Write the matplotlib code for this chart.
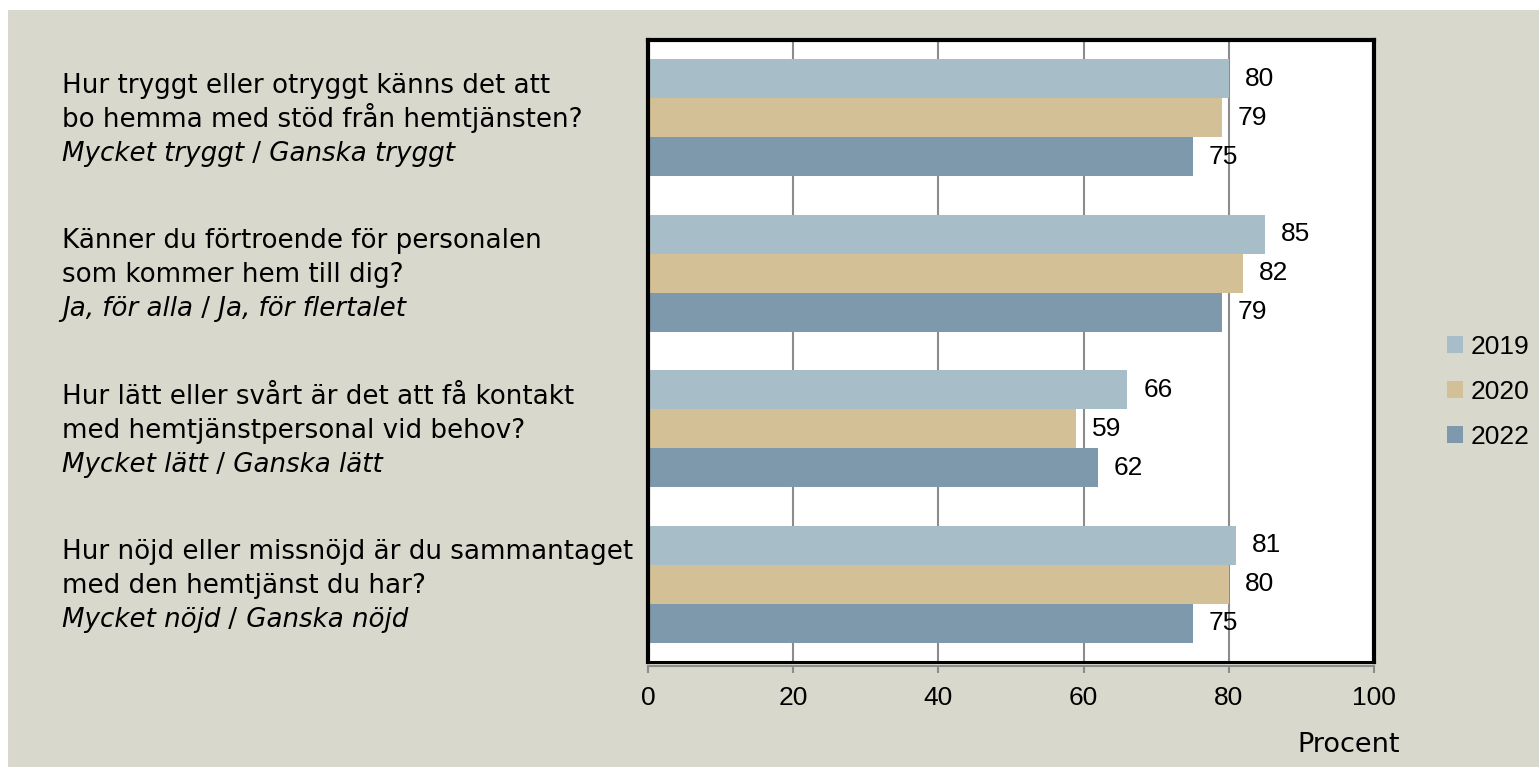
import matplotlib
matplotlib.use("Agg")
import matplotlib.pyplot as plt
import matplotlib.transforms as mtransforms
from matplotlib.patches import Rectangle

plt.rcParams['font.family'] = ['Liberation Sans', 'DejaVu Sans']
word_font = ['DejaVu Sans']

# --- data
question_lines = [
    ("Hur tryggt eller otryggt känns det att", "bo hemma med stöd från hemtjänsten?"),
    ("Känner du förtroende för personalen", "som kommer hem till dig?"),
    ("Hur lätt eller svårt är det att få kontakt", "med hemtjänstpersonal vid behov?"),
    ("Hur nöjd eller missnöjd är du sammantaget", "med den hemtjänst du har?"),
]
answers = [
    ("Mycket tryggt", "Ganska tryggt"),
    ("Ja, för alla", "Ja, för flertalet"),
    ("Mycket lätt", "Ganska lätt"),
    ("Mycket nöjd", "Ganska nöjd"),
]
years = ["2019", "2020", "2022"]
v2019 = [80, 85, 66, 81]
v2020 = [79, 82, 59, 80]
v2022 = [75, 79, 62, 75]
colors = ["#A7BDC8", "#D4C096", "#7D99AB"]
xticks = [0, 20, 40, 60, 80, 100]

bg = "#D9D8CC"
W, H = 1539, 767
fig = plt.figure(figsize=(W / 100, H / 100), dpi=100, facecolor="white")
fig.patches.append(Rectangle((8 / W, 0), 1, 1 - 10 / H, transform=fig.transFigure,
                             facecolor=bg, edgecolor="none", zorder=-10))

ax = fig.add_axes([648 / W, 1 - 662 / H, (1374 - 648) / W, (662 - 40) / H])
ax.set_facecolor("white")

bh = 0.25
series = [v2019, v2020, v2022]
for k, (vals, c, yr) in enumerate(zip(series, colors, years)):
    ys = [i + (k - 1) * bh for i in range(len(vals))]
    ax.barh(ys, vals, height=bh, color=c, label=yr, zorder=2)
    for y, v in zip(ys, vals):
        ax.annotate(str(v), xy=(v, y), xytext=(16, 0), textcoords="offset pixels",
                    ha="left", va="center", fontsize=19, color="black", zorder=4)

ax.set_xlim(0, 100)
ax.set_ylim(len(question_lines) - 0.5, -0.5)
ax.set_yticks([])
ax.set_xticks(xticks)
ax.grid(axis="x", color="#8C8C8C", linewidth=1.5, zorder=1)
ax.set_axisbelow(True)
ax.tick_params(axis="x", direction="out", length=5, width=1.5, color="#8C8C8C",
               labelsize=19, labelcolor="black", pad=9)

for s in ["top", "left", "right"]:
    ax.spines[s].set_color("black")
    ax.spines[s].set_linewidth(3)
ax.spines["bottom"].set_color("#8C8C8C")
ax.spines["bottom"].set_linewidth(1.5)
ax.spines["bottom"].set_position(("outward", 3))
ax.plot([0, 1], [0, 0], transform=ax.transAxes, color="black", lw=2.2,
        clip_on=False, zorder=5)

# question labels on the left
blend = mtransforms.blended_transform_factory(fig.transFigure, ax.transData)
qs = 18.8
for i, ((l1, l2), (a1, a2)) in enumerate(zip(question_lines, answers)):
    t1 = mtransforms.offset_copy(blend, fig=fig, x=0, y=25, units="dots")
    t2 = mtransforms.offset_copy(blend, fig=fig, x=0, y=-9, units="dots")
    t3 = mtransforms.offset_copy(blend, fig=fig, x=0, y=-43, units="dots")
    ax.text(62 / W, i, l1, transform=t1, ha="left", va="baseline", fontsize=qs,
            family=word_font)
    ax.text(62 / W, i, l2, transform=t2, ha="left", va="baseline", fontsize=qs,
            family=word_font)
    p1 = ax.text(62 / W, i, a1, transform=t3, ha="left", va="baseline", fontsize=qs,
                 family=word_font, style="italic")
    p2 = ax.annotate(" /", xy=(1, 0), xycoords=p1, ha="left", va="bottom",
                     fontsize=qs, family=word_font)
    ax.annotate(" " + a2, xy=(1, 0), xycoords=p2, ha="left", va="bottom",
                fontsize=qs, family=word_font, style="italic")

fig.text(1349 / W, 1 - 745 / H, "Procent", ha="center", va="center", fontsize=19.5,
         family=word_font)

fig.legend(loc="center left", bbox_to_anchor=(1436 / W, 1 - 392 / H), frameon=False,
           fontsize=19, handlelength=0.62, handleheight=0.62, handletextpad=0.3,
           labelspacing=0.8, borderaxespad=0)

fig.savefig("out.png", dpi=100, facecolor=fig.get_facecolor())
